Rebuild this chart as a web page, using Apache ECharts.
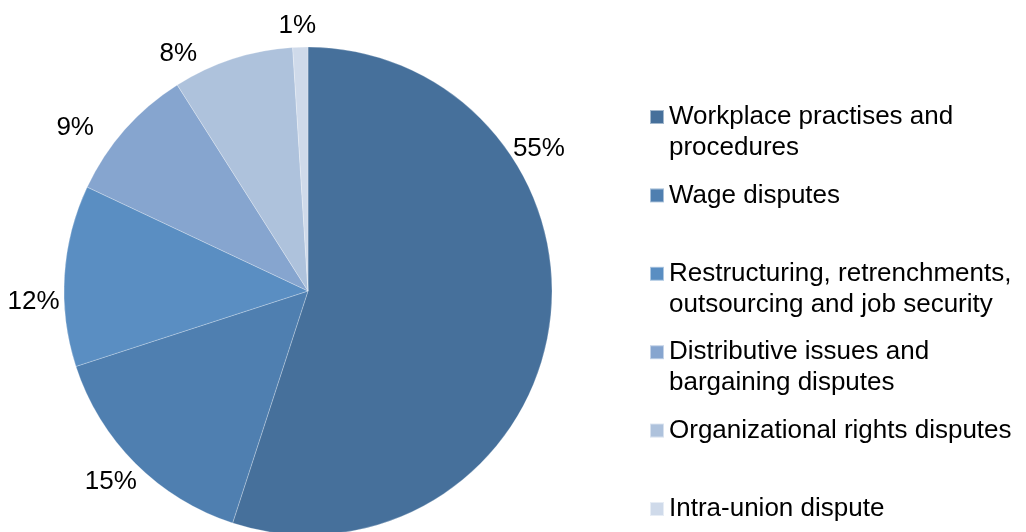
<!DOCTYPE html>
<html>
<head>
<meta charset="utf-8">
<script src="https://cdn.jsdelivr.net/npm/echarts@6/dist/echarts.min.js"></script>
<style>
  html, body { margin: 0; padding: 0; background: #fff; }
  #chart { width: 1026px; height: 532px; }
</style>
</head>
<body>
<div id="chart"></div>
<script>
// dispute categories (legend lines as broken in the original)
const legendLines = [
  ["Workplace practises and", "procedures"],
  ["Wage disputes"],
  ["Restructuring, retrenchments,", "outsourcing and job security"],
  ["Distributive issues and", "bargaining disputes"],
  ["Organizational rights disputes"],
  ["Intra-union dispute"]
];
const categories = legendLines.map(l => l.join(" "));
// share of disputes, %
const shares = [55, 15, 12, 9, 8, 1];
const colors = ["#46709b", "#4f7fb0", "#5a8ec2", "#86a5cf", "#aec2dc", "#cfdaea"];

// label nudges from echarts' outside placement (excel "best fit" look)
const labelNudge = [[-49, -182], [12, 13], [8, 27], [-20, 3], [-28, 2], [21, -13]];

const font = "'Liberation Sans', Arial, sans-serif";
const lineH = 31;
const slotTop = 117, slotStep = 78.4;

const chart = echarts.init(document.getElementById("chart"));

// one legend per entry so every entry gets an equal slot (like the original)
const legends = categories.map((name, i) => {
  const two = legendLines[i].length > 1;
  return {
    data: [name],
    orient: "vertical",
    left: 649,
    top: slotTop + i * slotStep - (two ? lineH * 1.5 : lineH / 2),
    itemWidth: 14,
    itemHeight: 14,
    icon: "rect",
    selectedMode: false,
    padding: 0,
    formatter: () => two ? "\n" + legendLines[i].join("\n") : legendLines[i][0],
    textStyle: { fontFamily: font, fontSize: 26, color: "#000", lineHeight: lineH }
  };
});

chart.setOption({
  animation: false,
  color: colors,
  legend: legends,
  series: [
    {
      type: "pie",
      center: [308, 291],
      radius: 244,
      startAngle: 90,
      clockwise: true,
      avoidLabelOverlap: false,
      itemStyle: { borderColor: "rgba(255,255,255,0.5)", borderWidth: 0.5 },
      label: {
        show: true,
        position: "outside",
        formatter: "{c}%",
        fontFamily: font,
        fontSize: 26,
        color: "#000"
      },
      labelLine: { show: false, length: 8, length2: 0 },
      labelLayout: function (params) {
        const n = labelNudge[params.dataIndex];
        return { dx: n[0], dy: n[1] };
      },
      emphasis: { disabled: true },
      data: categories.map((name, i) => ({ name: name, value: shares[i] }))
    }
  ]
});
</script>
</body>
</html>
